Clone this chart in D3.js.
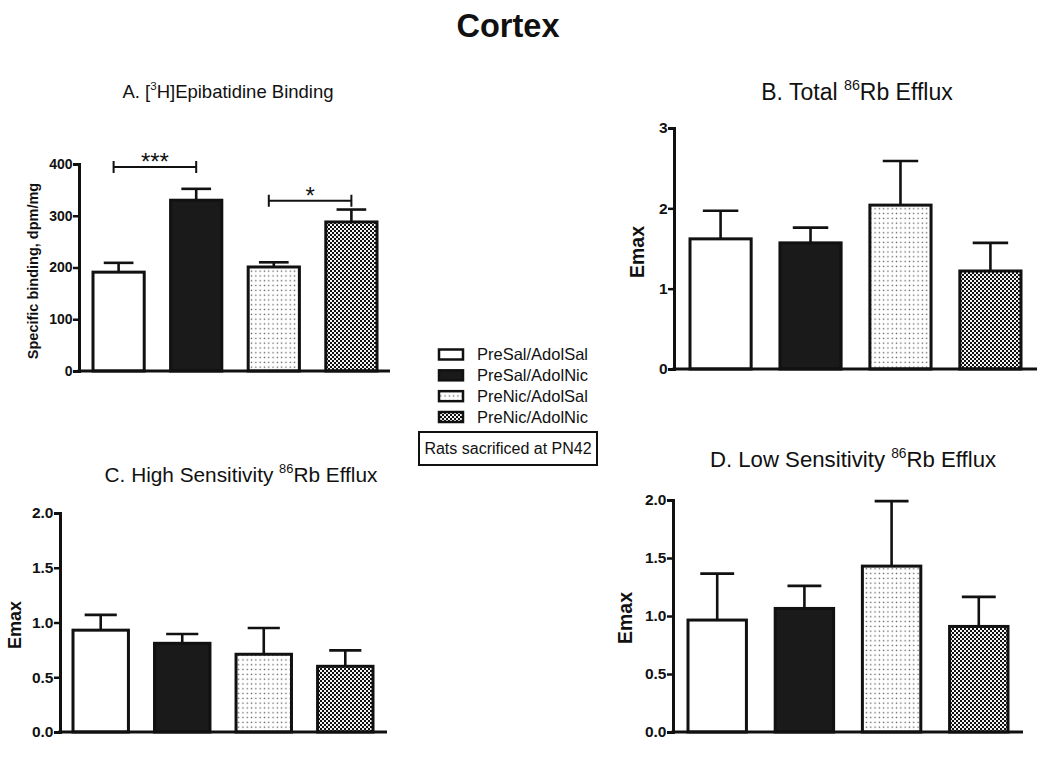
<!DOCTYPE html>
<html><head><meta charset="utf-8">
<script src="https://cdn.jsdelivr.net/npm/d3@7"></script>
<style>
html,body{margin:0;padding:0;background:#fff;}
text{font-family:"Liberation Sans",Arial,Helvetica,sans-serif;fill:#111;}
</style></head>
<body>
<svg id="chart" width="1050" height="759"></svg>
<script>
// ---------- data ----------
const groups = ["PreSal/AdolSal", "PreSal/AdolNic", "PreNic/AdolSal", "PreNic/AdolNic"];
const bindingMean = [191, 330, 201, 288];
const bindingSem  = [18, 22, 9, 24];
const totalMean   = [1.62, 1.57, 2.04, 1.22];
const totalSem    = [0.35, 0.19, 0.55, 0.35];
const highMean    = [0.93, 0.81, 0.71, 0.60];
const highSem     = [0.14, 0.085, 0.24, 0.145];
const lowMean     = [0.965, 1.065, 1.43, 0.91];
const lowSem      = [0.40, 0.195, 0.56, 0.255];
const bindingTicks = [0, 100, 200, 300, 400];
const totalTicks   = [0, 1, 2, 3];
const effluxTicks  = [0, 0.5, 1.0, 1.5, 2.0];
const sigPairs  = [[0, 1], [2, 3]];
const sigLevels = [394, 329];
const sigLabels = ["***", "*"];

const svg = d3.select("#chart");

// patterns
const defs = svg.append("defs");
const pDots = defs.append("pattern").attr("id","dots").attr("patternUnits","userSpaceOnUse")
  .attr("width",4.3).attr("height",4.8);
pDots.append("rect").attr("width",4.3).attr("height",4.8).attr("fill","#fff");
pDots.append("rect").attr("x",1.5).attr("y",1.7).attr("width",1.3).attr("height",1.3).attr("fill","#555");
const pChk = defs.append("pattern").attr("id","check").attr("patternUnits","userSpaceOnUse")
  .attr("width",4).attr("height",4);
pChk.append("rect").attr("width",4).attr("height",4).attr("fill","#f4f4f4");
pChk.append("rect").attr("width",2).attr("height",2).attr("fill","#111");
pChk.append("rect").attr("x",2).attr("y",2).attr("width",2).attr("height",2).attr("fill","#111");

const fills = ["#ffffff", "#1a1a1a", "url(#dots)", "url(#check)"];

// main title
svg.append("text").attr("x",508).attr("y",37).attr("text-anchor","middle")
  .style("font-size","32.5px").style("font-weight","bold").text("Cortex");

function titleWithSup(g, x, y, size, pre, sup, post){
  const t = g.append("text").attr("x",x).attr("y",y).attr("text-anchor","middle").style("font-size",size+"px");
  t.append("tspan").text(pre);
  t.append("tspan").attr("dy",-size*0.42).style("font-size",(size*0.62)+"px").text(sup);
  t.append("tspan").attr("dy",size*0.42).text(post);
}

const panels = [
  {mean: bindingMean, sem: bindingSem, ticks: bindingTicks, fmt: d3.format("d"), yMax: 400,
   ax: 79, y0: 371, yTop: 164, xEnd: 390, bx0: 93, bx1: 377, pad: 0.34, tickFs: 14,
   ylab: "Specific binding, dpm/mg", ylx: 33, yly: 271, ylFs: 14.5,
   title: ["A. [", "3", "H]Epibatidine Binding"], tx: 228, ty: 98, tFs: 18.5, sig: true},
  {mean: totalMean, sem: totalSem, ticks: totalTicks, fmt: d3.format("d"), yMax: 3,
   ax: 674, y0: 369, yTop: 128, xEnd: 1037, bx0: 690, bx1: 1021, pad: 0.32, tickFs: 15.5,
   ylab: "Emax", ylx: 637, yly: 252, ylFs: 19.5,
   title: ["B. Total ", "86", "Rb Efflux"], tx: 857, ty: 100, tFs: 23},
  {mean: highMean, sem: highSem, ticks: effluxTicks, fmt: d3.format(".1f"), yMax: 2,
   ax: 60, y0: 732, yTop: 513, xEnd: 387, bx0: 73, bx1: 373, pad: 0.32, tickFs: 15.5,
   ylab: "Emax", ylx: 15, yly: 625, ylFs: 18,
   title: ["C. High Sensitivity ", "86", "Rb Efflux"], tx: 241, ty: 482, tFs: 20.8},
  {mean: lowMean, sem: lowSem, ticks: effluxTicks, fmt: d3.format(".1f"), yMax: 2,
   ax: 673, y0: 732, yTop: 500, xEnd: 1023, bx0: 688, bx1: 1008, pad: 0.33, tickFs: 15.5,
   ylab: "Emax", ylx: 625, yly: 618, ylFs: 19.5,
   title: ["D. Low Sensitivity ", "86", "Rb Efflux"], tx: 853, ty: 467, tFs: 22.2}
];

panels.forEach(p => {
  const g = svg.append("g");
  const y = d3.scaleLinear().domain([0, p.yMax]).range([p.y0, p.yTop]);
  const x = d3.scaleBand().domain(groups).range([p.bx0, p.bx1]).paddingInner(p.pad).paddingOuter(0);
  const bw = x.bandwidth();

  // error bars
  groups.forEach((gname, i) => {
    const cx = x(gname) + bw/2;
    g.append("line").attr("x1",cx).attr("x2",cx)
      .attr("y1",y(p.mean[i])).attr("y2",y(p.mean[i] + p.sem[i]))
      .attr("stroke","#111").attr("stroke-width",2.6);
    g.append("line").attr("x1",cx - bw*0.29).attr("x2",cx + bw*0.29)
      .attr("y1",y(p.mean[i] + p.sem[i])).attr("y2",y(p.mean[i] + p.sem[i]))
      .attr("stroke","#111").attr("stroke-width",2.6);
  });

  // bars
  g.selectAll("rect.bar").data(groups).join("rect").attr("class","bar")
    .attr("x", d => x(d)).attr("width", bw)
    .attr("y", (d,i) => y(p.mean[i])).attr("height", (d,i) => y(0) - y(p.mean[i]))
    .attr("fill", (d,i) => fills[i]).attr("stroke","#111").attr("stroke-width",3);

  // axes
  const yAxis = d3.axisLeft(y).tickValues(p.ticks).tickFormat(p.fmt).tickSizeOuter(0).tickSize(6).tickPadding(0.5);
  const ag = g.append("g").attr("transform", `translate(${p.ax},0)`).call(yAxis);
  ag.select(".domain").attr("stroke","#111").attr("stroke-width",3);
  ag.selectAll(".tick line").attr("stroke","#111").attr("stroke-width",2.5);
  ag.selectAll(".tick text").style("font-size", p.tickFs+"px").style("font-weight","bold")
    .style("font-family",'"Liberation Sans",Arial,sans-serif').attr("fill","#111");
  g.append("line").attr("x1",p.ax - 1.5).attr("x2",p.xEnd).attr("y1",p.y0).attr("y2",p.y0)
    .attr("stroke","#111").attr("stroke-width",3);

  // y label
  g.append("text").attr("transform",`translate(${p.ylx},${p.yly}) rotate(-90)`)
    .attr("text-anchor","middle").attr("dy","0.35em")
    .style("font-size",p.ylFs+"px").style("font-weight","bold").text(p.ylab);

  // title
  titleWithSup(g, p.tx, p.ty, p.tFs, p.title[0], p.title[1], p.title[2]);

  // significance
  if (p.sig) {
    sigPairs.forEach((pair, k) => {
      const xa = x(groups[pair[0]]) + bw/2 - 5, xb = x(groups[pair[1]]) + bw/2;
      const yy = y(sigLevels[k]);
      g.append("path").attr("d", `M${xa},${yy-6}V${yy+6}M${xa},${yy}H${xb}M${xb},${yy-6}V${yy+6}`)
        .attr("fill","none").attr("stroke","#111").attr("stroke-width",2);
      g.append("text").attr("x",(xa+xb)/2).attr("y",yy + 3).attr("text-anchor","middle")
        .style("font-size","24px").text(sigLabels[k]);
    });
  }
});

// legend
const lg = svg.append("g");
const legY = d3.scalePoint().domain(groups).range([354.5, 417]);
groups.forEach((gname, i) => {
  lg.append("rect").attr("x",439).attr("y",legY(gname) - 5).attr("width",24).attr("height",10)
    .attr("fill",fills[i]).attr("stroke","#111").attr("stroke-width",2.5);
  lg.append("text").attr("x",477).attr("y",legY(gname) + 5.5).style("font-size","16.5px").text(gname);
});
lg.append("rect").attr("x",419).attr("y",432).attr("width",178).attr("height",33)
  .attr("fill","none").attr("stroke","#111").attr("stroke-width",2);
lg.append("text").attr("x",508).attr("y",454).attr("text-anchor","middle").style("font-size","16px")
  .text("Rats sacrificed at PN42");
</script>
</body></html>
